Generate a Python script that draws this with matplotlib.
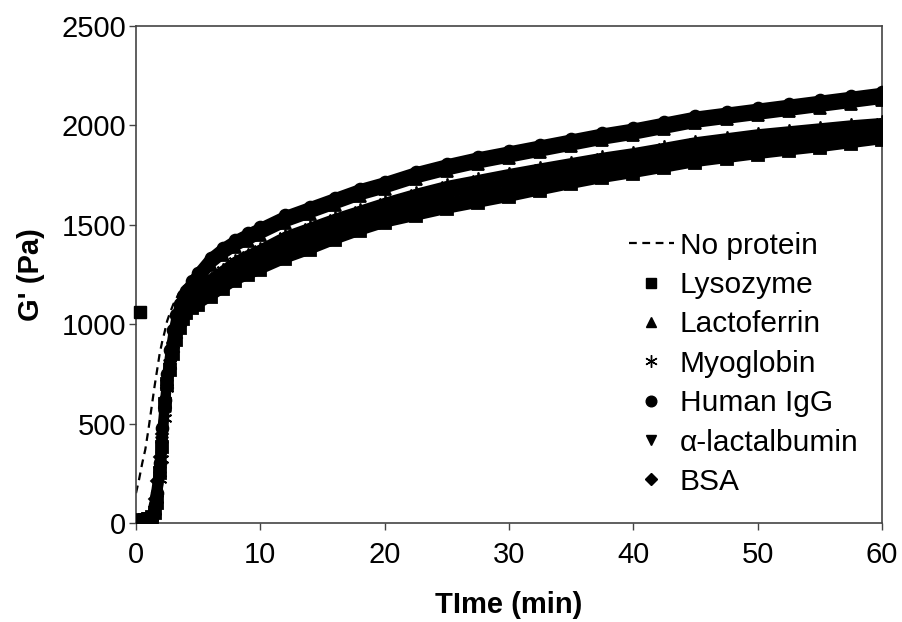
import numpy as np
import matplotlib.pyplot as plt

plt.rcParams['font.family'] = ['Liberation Sans', 'DejaVu Sans']

# time points (min)
time = [0, 0.25, 0.5, 0.75, 1.0, 1.25, 1.5, 1.7, 1.9, 2.1, 2.3, 2.5, 2.75, 3.0, 3.25, 3.5,
        3.75, 4, 4.5, 5, 6, 7, 8, 9, 10, 12, 14, 16, 18, 20, 22.5, 25, 27.5, 30, 32.5, 35,
        37.5, 40, 42.5, 45, 47.5, 50, 52.5, 55, 57.5, 60]

# G' (Pa)
no_protein = [150, 220, 300, 370, 470, 580, 690, 770, 850, 910, 960, 1015, 1060, 1100, 1130, 1160,
              1185, 1200, 1215, 1225, 1245, 1280, 1310, 1340, 1365, 1425, 1472, 1518, 1560, 1598, 1643, 1683,
              1713, 1743, 1771, 1798, 1825, 1848, 1875, 1903, 1923, 1943, 1958, 1973, 1988, 2000]
lysozyme = [12, 12, 14, 16, 20, 28, 50, 100, 250, 380, 600, 700, 770, 850, 920, 980,
            1025, 1055, 1080, 1098, 1138, 1178, 1218, 1245, 1273, 1328, 1373, 1423, 1468, 1508, 1543, 1578,
            1608, 1638, 1671, 1703, 1733, 1758, 1785, 1813, 1833, 1853, 1871, 1888, 1908, 1928]
lactoferrin = [10, 12, 14, 17, 22, 32, 75, 130, 280, 430, 590, 720, 830, 930, 1000, 1055,
               1095, 1125, 1170, 1215, 1300, 1350, 1390, 1420, 1450, 1510, 1555, 1600, 1645, 1680, 1730, 1770,
               1805, 1835, 1865, 1895, 1925, 1950, 1980, 2010, 2030, 2050, 2070, 2090, 2110, 2130]
myoglobin = [8, 10, 12, 15, 20, 30, 60, 120, 220, 320, 530, 680, 800, 900, 975, 1040,
             1090, 1120, 1150, 1178, 1228, 1273, 1318, 1350, 1378, 1443, 1488, 1533, 1573, 1613, 1658, 1698,
             1728, 1758, 1786, 1813, 1840, 1863, 1890, 1918, 1938, 1958, 1973, 1988, 2003, 2015]
human_igg = [10, 12, 15, 18, 22, 35, 90, 150, 300, 480, 620, 750, 870, 970, 1045, 1100,
             1140, 1165, 1215, 1260, 1335, 1385, 1425, 1457, 1487, 1547, 1592, 1637, 1682, 1717, 1767, 1807,
             1842, 1872, 1902, 1932, 1962, 1987, 2017, 2047, 2067, 2087, 2107, 2127, 2147, 2167]
a_lactalbumin = [5, 8, 10, 13, 18, 26, 55, 110, 250, 400, 560, 690, 790, 880, 955, 1015,
                 1060, 1095, 1125, 1150, 1197, 1240, 1283, 1313, 1341, 1403, 1448, 1495, 1536, 1576, 1618, 1656,
                 1686, 1716, 1746, 1775, 1803, 1826, 1853, 1881, 1901, 1921, 1937, 1953, 1970, 1985]
bsa = [6, 9, 11, 14, 19, 30, 120, 210, 330, 450, 580, 680, 775, 860, 930, 990,
       1035, 1070, 1100, 1122, 1165, 1207, 1248, 1277, 1305, 1363, 1408, 1456, 1500, 1540, 1578, 1614,
       1644, 1674, 1706, 1736, 1765, 1790, 1817, 1845, 1865, 1885, 1902, 1918, 1937, 1954]

# single early lysozyme reading
lysozyme_first_t = 0.3
lysozyme_first_g = 1060

fig = plt.figure(figsize=(9.03, 6.22), dpi=100)
ax = fig.add_axes([0.1506, 0.1592, 0.8261, 0.7990])

ax.plot(time, no_protein, color='black', ls=(0, (3.5, 2.5)), lw=1.6, zorder=1, label='No protein')

series = [
    (lysozyme, 's', 8, 'Lysozyme'),
    (lactoferrin, '^', 8.5, 'Lactoferrin'),
    (myoglobin, (6, 2, 0), 10, 'Myoglobin'),
    (human_igg, 'o', 8.5, 'Human IgG'),
    (a_lactalbumin, 'v', 8.5, 'α-lactalbumin'),
    (bsa, 'D', 6.5, 'BSA'),
]
for vals, mk, ms, name in series:
    # thick band of points as in the original
    ax.plot(time, vals, color='black', lw=6.5, solid_capstyle='round', zorder=2)
    ax.plot(time, vals, ls='none', marker=mk, ms=ms, color='black', mew=1.3, zorder=3)
    ax.plot([], [], ls='none', marker=mk, ms=ms * 0.9, color='black', mew=1.0, label=name)

ax.plot([lysozyme_first_t], [lysozyme_first_g], ls='none', marker='s', ms=8, color='black',
        zorder=3, clip_on=False)

ax.set_xlim(0, 60)
ax.set_ylim(0, 2500)
ax.set_xticks([0, 10, 20, 30, 40, 50, 60])
ax.set_yticks([0, 500, 1000, 1500, 2000, 2500])
ax.tick_params(axis='both', labelsize=21, direction='out', length=5, width=1, color='#444444',
               top=False, right=False, pad=2)
ax.tick_params(axis='x', pad=8)
for s in ax.spines.values():
    s.set_color('#444444')
    s.set_linewidth(1.2)

ax.set_xlabel('TIme (min)', fontsize=21, fontweight='bold', labelpad=16)
ax.set_ylabel("G' (Pa)", fontsize=21, fontweight='bold', labelpad=12)

leg = ax.legend(loc='upper left', bbox_to_anchor=(0.645, 0.61), frameon=False, fontsize=21.5,
                handlelength=1.5, handletextpad=0.2, labelspacing=0.38, borderaxespad=0)

fig.savefig('out.png', dpi=100)
